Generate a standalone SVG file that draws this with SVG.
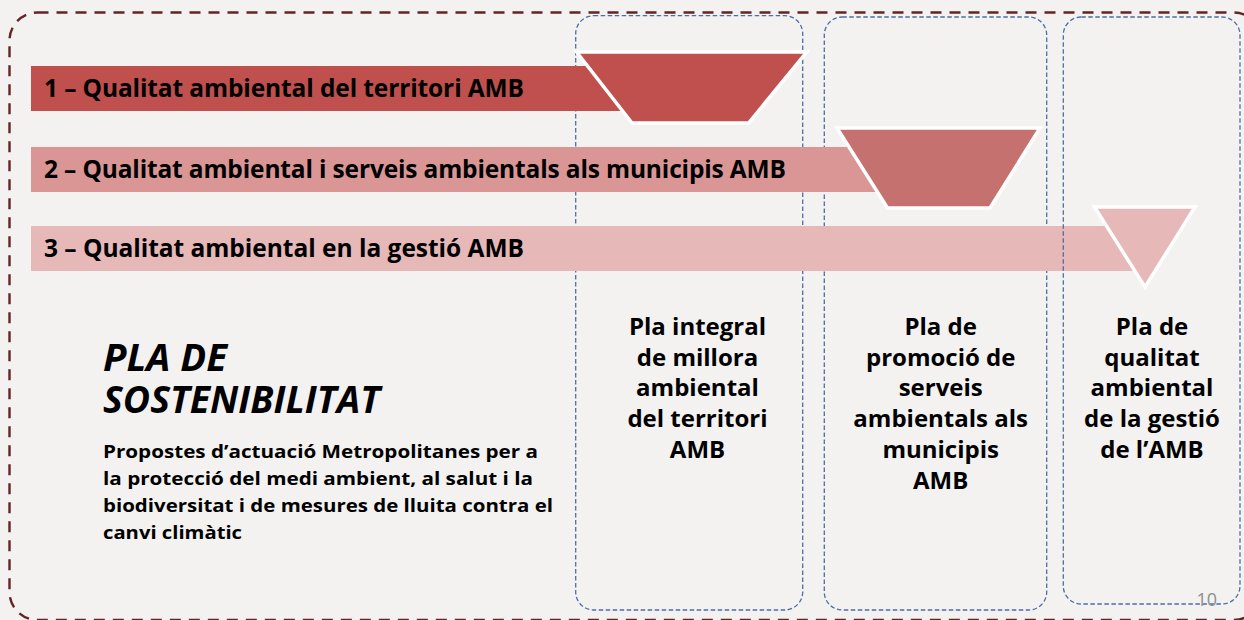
<svg xmlns="http://www.w3.org/2000/svg" width="1244" height="620" viewBox="0 0 1244 620">
  <style>
    .t { font-family: "Open Sans", "Noto Sans", "DejaVu Sans", sans-serif; font-weight: 700; fill: #000; }
    .bar-text { font-size: 24.5px; }
    .col-text { font-size: 24px; text-anchor: middle; }
    .title { font-size: 37px; font-style: italic; }
    .para { font-size: 18px; }
    .box { fill: none; stroke: #4A6FA5; stroke-width: 1.3; stroke-dasharray: 4.5 2.5; }
    .frame { fill: none; stroke: #642424; stroke-width: 2.4; stroke-dasharray: 11 8; }
    .shape { stroke: #FFFFFF; stroke-width: 3.5; stroke-linejoin: miter; }
    .pagenum { font-family: "Open Sans", "Noto Sans", sans-serif; font-size: 18px; fill: #8F8F8F; text-anchor: end; }
  </style>
  <rect x="0" y="0" width="1244" height="620" fill="#F3F2F0"/>
  <g id="frame">
    <rect class="frame" x="9.5" y="12.5" width="1252" height="607.5" rx="28" ry="28"/>
  </g>
  <g id="col1">
    <rect class="box" x="575.7" y="15.7" width="227" height="594.3" rx="18" ry="18"/>
  </g>
  <g id="col2">
    <rect class="box" x="824.3" y="17" width="222.4" height="593" rx="18" ry="18"/>
  </g>
  <g id="theme1">
    <rect x="31" y="66" width="670" height="45" fill="#C0504D"/>
    <text class="t bar-text" x="44" y="97" textLength="480">1 – Qualitat ambiental del territori AMB</text>
  </g>
  <g id="theme2">
    <rect x="31" y="147" width="920" height="45" fill="#D99694"/>
    <text class="t bar-text" x="44" y="178" textLength="742">2 – Qualitat ambiental i serveis ambientals als municipis AMB</text>
  </g>
  <g id="theme3">
    <rect x="31" y="226" width="1114" height="45" fill="#E6B8B7"/>
    <text class="t bar-text" x="44" y="257" textLength="480">3 – Qualitat ambiental en la gestió AMB</text>
  </g>
  <g id="col3">
    <rect class="box" x="1063.3" y="17" width="176.7" height="587" rx="18" ry="18"/>
  </g>
  <g id="marker1">
    <polygon class="shape" points="576.6,52 806.7,52 748.6,123 632,123" fill="#C0504D"/>
  </g>
  <g id="marker2">
    <polygon class="shape" points="837,128 1040,128 990,208 887.5,208" fill="#C4716F"/>
  </g>
  <g id="marker3">
    <polygon class="shape" points="1094.5,207 1195,207 1145,287" fill="#E6B8B7"/>
  </g>
  <g id="col1-label">
    <text class="t col-text" x="697.5" y="335">Pla integral</text>
    <text class="t col-text" x="697.5" y="365.7">de millora</text>
    <text class="t col-text" x="697.5" y="396.4">ambiental</text>
    <text class="t col-text" x="697.5" y="427.1">del territori</text>
    <text class="t col-text" x="697.5" y="457.8">AMB</text>
  </g>
  <g id="col2-label">
    <text class="t col-text" x="940.7" y="335">Pla de</text>
    <text class="t col-text" x="940.7" y="365.7">promoció de</text>
    <text class="t col-text" x="940.7" y="396.4">serveis</text>
    <text class="t col-text" x="940.7" y="427.1">ambientals als</text>
    <text class="t col-text" x="940.7" y="457.8">municipis</text>
    <text class="t col-text" x="940.7" y="488.5">AMB</text>
  </g>
  <g id="col3-label">
    <text class="t col-text" x="1152" y="335">Pla de</text>
    <text class="t col-text" x="1152" y="365.7">qualitat</text>
    <text class="t col-text" x="1152" y="396.4">ambiental</text>
    <text class="t col-text" x="1152" y="427.1">de la gestió</text>
    <text class="t col-text" x="1152" y="457.8">de l’AMB</text>
  </g>
  <g id="title">
    <text class="t title" x="103" y="371" textLength="124" lengthAdjust="spacingAndGlyphs">PLA DE</text>
    <text class="t title" x="103" y="413" textLength="277" lengthAdjust="spacingAndGlyphs">SOSTENIBILITAT</text>
    <text class="t para" x="103" y="458" textLength="435" lengthAdjust="spacingAndGlyphs">Propostes d’actuació Metropolitanes per a</text>
    <text class="t para" x="103" y="485" textLength="430" lengthAdjust="spacingAndGlyphs">la protecció del medi ambient, al salut i la</text>
    <text class="t para" x="103" y="512" textLength="450" lengthAdjust="spacingAndGlyphs">biodiversitat i de mesures de lluita contra el</text>
    <text class="t para" x="103" y="539" textLength="139" lengthAdjust="spacingAndGlyphs">canvi climàtic</text>
  </g>
  <g id="connectors"/>
  <text class="pagenum" x="1217" y="605.5">10</text>
</svg>
